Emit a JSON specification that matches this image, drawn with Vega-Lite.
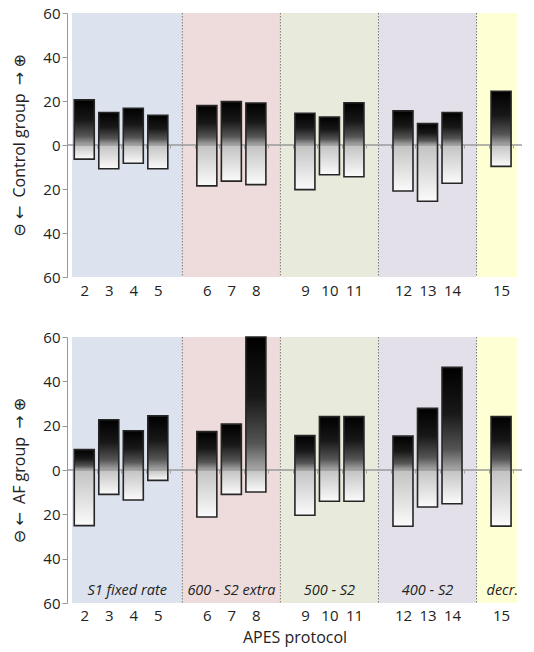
{
  "$schema": "https://vega.github.io/schema/vega-lite/v6.json",
  "padding": {"left": 11, "top": 6, "right": 8, "bottom": 5},
  "background": "white",
  "config": {
    "font": "Open Sans",
    "view": {"stroke": null},
    "concat": {"spacing": 32},
    "axis": {"grid": false, "labelColor": "#222222", "titleColor": "#222222", "labelFontSize": 15, "titleFontSize": 16, "titleFontWeight": "normal"}
  },
  "datasets": {
    "bars": [
      {"panel": "Control", "protocol": 2, "slot": 0.5, "up": 20.5, "down": -6.4},
      {"panel": "Control", "protocol": 3, "slot": 1.5, "up": 14.8, "down": -10.8},
      {"panel": "Control", "protocol": 4, "slot": 2.5, "up": 16.7, "down": -8.3},
      {"panel": "Control", "protocol": 5, "slot": 3.5, "up": 13.5, "down": -10.8},
      {"panel": "Control", "protocol": 6, "slot": 5.5, "up": 17.9, "down": -18.6},
      {"panel": "Control", "protocol": 7, "slot": 6.5, "up": 19.7, "down": -16.4},
      {"panel": "Control", "protocol": 8, "slot": 7.5, "up": 19.1, "down": -18.0},
      {"panel": "Control", "protocol": 9, "slot": 9.5, "up": 14.4, "down": -20.3},
      {"panel": "Control", "protocol": 10, "slot": 10.5, "up": 12.7, "down": -13.5},
      {"panel": "Control", "protocol": 11, "slot": 11.5, "up": 19.2, "down": -14.4},
      {"panel": "Control", "protocol": 12, "slot": 13.5, "up": 15.5, "down": -20.9},
      {"panel": "Control", "protocol": 13, "slot": 14.5, "up": 9.7, "down": -25.6},
      {"panel": "Control", "protocol": 14, "slot": 15.5, "up": 14.8, "down": -17.4},
      {"panel": "Control", "protocol": 15, "slot": 17.5, "up": 24.4, "down": -9.7},
      {"panel": "AF", "protocol": 2, "slot": 0.5, "up": 9.2, "down": -25.1},
      {"panel": "AF", "protocol": 3, "slot": 1.5, "up": 22.7, "down": -11.0},
      {"panel": "AF", "protocol": 4, "slot": 2.5, "up": 17.7, "down": -13.5},
      {"panel": "AF", "protocol": 5, "slot": 3.5, "up": 24.4, "down": -4.7},
      {"panel": "AF", "protocol": 6, "slot": 5.5, "up": 17.3, "down": -21.2},
      {"panel": "AF", "protocol": 7, "slot": 6.5, "up": 20.7, "down": -11.0},
      {"panel": "AF", "protocol": 8, "slot": 7.5, "up": 60, "down": -9.9},
      {"panel": "AF", "protocol": 9, "slot": 9.5, "up": 15.5, "down": -20.4},
      {"panel": "AF", "protocol": 10, "slot": 10.5, "up": 24.1, "down": -14.1},
      {"panel": "AF", "protocol": 11, "slot": 11.5, "up": 24.1, "down": -14.1},
      {"panel": "AF", "protocol": 12, "slot": 13.5, "up": 15.3, "down": -25.4},
      {"panel": "AF", "protocol": 13, "slot": 14.5, "up": 27.8, "down": -16.7},
      {"panel": "AF", "protocol": 14, "slot": 15.5, "up": 46.3, "down": -15.2},
      {"panel": "AF", "protocol": 15, "slot": 17.5, "up": 24.1, "down": -25.3}
    ],
    "regions": [
      {"group": "S1 fixed rate", "x0": 0, "x1": 4.5, "mid": 2.25},
      {"group": "600 - S2 extra", "x0": 4.5, "x1": 8.5, "mid": 6.5},
      {"group": "500 - S2", "x0": 8.5, "x1": 12.5, "mid": 10.5},
      {"group": "400 - S2", "x0": 12.5, "x1": 16.5, "mid": 14.5},
      {"group": "decr.", "x0": 16.5, "x1": 18.15, "mid": 17.55}
    ],
    "seps": [{"x": 4.5}, {"x": 8.5}, {"x": 12.5}, {"x": 16.5}],
    "zero": [{"y": 0}]
  },
  "vconcat": [
    {
      "width": 455,
      "height": 264,
      "resolve": {"axis": {"x": "independent"}},
      "layer": [
        {
          "data": {"name": "regions"},
          "mark": {"type": "rect"},
          "encoding": {
            "x": {"field": "x0", "type": "quantitative", "scale": {"domain": [0, 18.15], "nice": false, "zero": false},
              "axis": {"title": null, "domain": false, "ticks": false, "labelPadding": 6, "values": [0.5, 1.5, 2.5, 3.5, 5.5, 6.5, 7.5, 9.5, 10.5, 11.5, 13.5, 14.5, 15.5, 17.5],
                "labelExpr": "floor(datum.value) + 2 - (datum.value > 4.5 ? 1 : 0) - (datum.value > 8.5 ? 1 : 0) - (datum.value > 12.5 ? 1 : 0) - (datum.value > 16.5 ? 1 : 0)"}},
            "x2": {"field": "x1"},
            "y": {"datum": 60, "type": "quantitative", "scale": {"domain": [-60, 60], "nice": false},
              "axis": {"title": "⊖ ←\u00a0 Control group \u00a0→ ⊕", "titleFont": "Open Sans, DejaVu Sans", "titlePadding": 15, "values": [-60, -50, -40, -30, -20, -10, 0, 10, 20, 30, 40, 50, 60],
                "labelExpr": "datum.value % 20 == 0 ? abs(datum.value) : ''", "domainColor": "#999999", "tickColor": "#999999", "tickSize": 5, "labelPadding": 2}},
            "y2": {"datum": -60},
            "color": {"field": "group", "type": "nominal", "legend": null,
              "scale": {"domain": ["S1 fixed rate", "600 - S2 extra", "500 - S2", "400 - S2", "decr."], "range": ["#dce3ee", "#eedcdc", "#e8ebdc", "#e3e0ea", "#ffffd4"]}}
          }
        },
        {
          "data": {"name": "seps"},
          "mark": {"type": "rule", "color": "#777777", "strokeWidth": 1, "strokeDash": [1.5, 1.5]},
          "encoding": {"x": {"field": "x", "type": "quantitative", "axis": null}, "y": {"datum": 60, "type": "quantitative"}, "y2": {"datum": -60}}
        },
        {
          "data": {"name": "bars"},
          "transform": [{"filter": "datum.panel == 'Control'"}],
          "mark": {"type": "bar", "width": 20, "strokeWidth": 0,
            "fill": {"gradient": "linear", "x1": 0, "y1": 0, "x2": 0, "y2": 1, "stops": [{"offset": 0, "color": "#000000"}, {"offset": 0.45, "color": "#181818"}, {"offset": 0.8, "color": "#555555"}, {"offset": 1, "color": "#a8a8a8"}]}},
          "encoding": {"x": {"field": "slot", "type": "quantitative", "axis": null}, "y": {"field": "up", "type": "quantitative"}, "y2": {"datum": 0}}
        },
        {
          "data": {"name": "bars"},
          "transform": [{"filter": "datum.panel == 'Control'"}],
          "mark": {"type": "bar", "width": 20, "strokeWidth": 0,
            "fill": {"gradient": "linear", "x1": 0, "y1": 0, "x2": 0, "y2": 1, "stops": [{"offset": 0, "color": "#c2c2c2"}, {"offset": 1, "color": "#fbfbfb"}]}},
          "encoding": {"x": {"field": "slot", "type": "quantitative", "axis": null},
            "y": {"field": "down", "type": "quantitative"}, "y2": {"datum": 0}}
        },
        {
          "data": {"name": "zero"},
          "mark": {"type": "rule", "color": "#9a9a9a", "strokeWidth": 1.5},
          "encoding": {"y": {"field": "y", "type": "quantitative"}}
        },
        {
          "data": {"name": "bars"},
          "transform": [{"filter": "datum.panel == 'Control'"}],
          "mark": {"type": "bar", "width": 20, "fill": "transparent", "stroke": "#262626", "strokeWidth": 1.6},
          "encoding": {"x": {"field": "slot", "type": "quantitative",
              "axis": {"title": null, "orient": "bottom", "offset": -132, "zindex": 1, "labels": false, "domain": false, "ticks": true, "tickSize": 3, "tickColor": "#a0a0a0", "values": [1, 2, 3, 4, 5, 6, 7, 8, 9, 10, 11, 12, 13, 14, 15, 16, 17, 18]}},
            "y": {"field": "up", "type": "quantitative"}, "y2": {"field": "down"}}
        }
      ]
    },
    {
      "width": 455,
      "height": 266,
      "resolve": {"axis": {"x": "independent"}},
      "layer": [
        {
          "data": {"name": "regions"},
          "mark": {"type": "rect"},
          "encoding": {
            "x": {"field": "x0", "type": "quantitative", "scale": {"domain": [0, 18.15], "nice": false, "zero": false},
              "axis": {"title": "APES protocol", "titlePadding": 6, "domain": false, "ticks": false, "labelPadding": 5, "values": [0.5, 1.5, 2.5, 3.5, 5.5, 6.5, 7.5, 9.5, 10.5, 11.5, 13.5, 14.5, 15.5, 17.5],
                "labelExpr": "floor(datum.value) + 2 - (datum.value > 4.5 ? 1 : 0) - (datum.value > 8.5 ? 1 : 0) - (datum.value > 12.5 ? 1 : 0) - (datum.value > 16.5 ? 1 : 0)"}},
            "x2": {"field": "x1"},
            "y": {"datum": 60, "type": "quantitative", "scale": {"domain": [-60, 60], "nice": false},
              "axis": {"title": "⊖ ←\u00a0 AF group \u00a0→ ⊕", "titleFont": "Open Sans, DejaVu Sans", "titlePadding": 15, "values": [-60, -50, -40, -30, -20, -10, 0, 10, 20, 30, 40, 50, 60],
                "labelExpr": "datum.value % 20 == 0 ? abs(datum.value) : ''", "domainColor": "#999999", "tickColor": "#999999", "tickSize": 5, "labelPadding": 2}},
            "y2": {"datum": -60},
            "color": {"field": "group", "type": "nominal", "legend": null,
              "scale": {"domain": ["S1 fixed rate", "600 - S2 extra", "500 - S2", "400 - S2", "decr."], "range": ["#dce3ee", "#eedcdc", "#e8ebdc", "#e3e0ea", "#ffffd4"]}}
          }
        },
        {
          "data": {"name": "seps"},
          "mark": {"type": "rule", "color": "#777777", "strokeWidth": 1, "strokeDash": [1.5, 1.5]},
          "encoding": {"x": {"field": "x", "type": "quantitative", "axis": null}, "y": {"datum": 60, "type": "quantitative"}, "y2": {"datum": -60}}
        },
        {
          "data": {"name": "regions"},
          "mark": {"type": "text", "fontStyle": "italic", "fontSize": 14.5, "color": "#222222", "baseline": "alphabetic", "dy": -8},
          "encoding": {"x": {"field": "mid", "type": "quantitative", "axis": null}, "y": {"datum": -60, "type": "quantitative"}, "text": {"field": "group"}}
        },
        {
          "data": {"name": "bars"},
          "transform": [{"filter": "datum.panel == 'AF'"}],
          "mark": {"type": "bar", "width": 20, "strokeWidth": 0,
            "fill": {"gradient": "linear", "x1": 0, "y1": 0, "x2": 0, "y2": 1, "stops": [{"offset": 0, "color": "#000000"}, {"offset": 0.45, "color": "#181818"}, {"offset": 0.8, "color": "#555555"}, {"offset": 1, "color": "#a8a8a8"}]}},
          "encoding": {"x": {"field": "slot", "type": "quantitative", "axis": null}, "y": {"field": "up", "type": "quantitative"}, "y2": {"datum": 0}}
        },
        {
          "data": {"name": "bars"},
          "transform": [{"filter": "datum.panel == 'AF'"}],
          "mark": {"type": "bar", "width": 20, "strokeWidth": 0,
            "fill": {"gradient": "linear", "x1": 0, "y1": 0, "x2": 0, "y2": 1, "stops": [{"offset": 0, "color": "#c2c2c2"}, {"offset": 1, "color": "#fbfbfb"}]}},
          "encoding": {"x": {"field": "slot", "type": "quantitative", "axis": null},
            "y": {"field": "down", "type": "quantitative"}, "y2": {"datum": 0}}
        },
        {
          "data": {"name": "zero"},
          "mark": {"type": "rule", "color": "#9a9a9a", "strokeWidth": 1.5},
          "encoding": {"y": {"field": "y", "type": "quantitative"}}
        },
        {
          "data": {"name": "bars"},
          "transform": [{"filter": "datum.panel == 'AF'"}],
          "mark": {"type": "bar", "width": 20, "fill": "transparent", "stroke": "#262626", "strokeWidth": 1.6},
          "encoding": {"x": {"field": "slot", "type": "quantitative",
              "axis": {"title": null, "orient": "bottom", "offset": -133, "zindex": 1, "labels": false, "domain": false, "ticks": true, "tickSize": 3, "tickColor": "#a0a0a0", "values": [1, 2, 3, 4, 5, 6, 7, 8, 9, 10, 11, 12, 13, 14, 15, 16, 17, 18]}},
            "y": {"field": "up", "type": "quantitative"}, "y2": {"field": "down"}}
        }
      ]
    }
  ]
}
